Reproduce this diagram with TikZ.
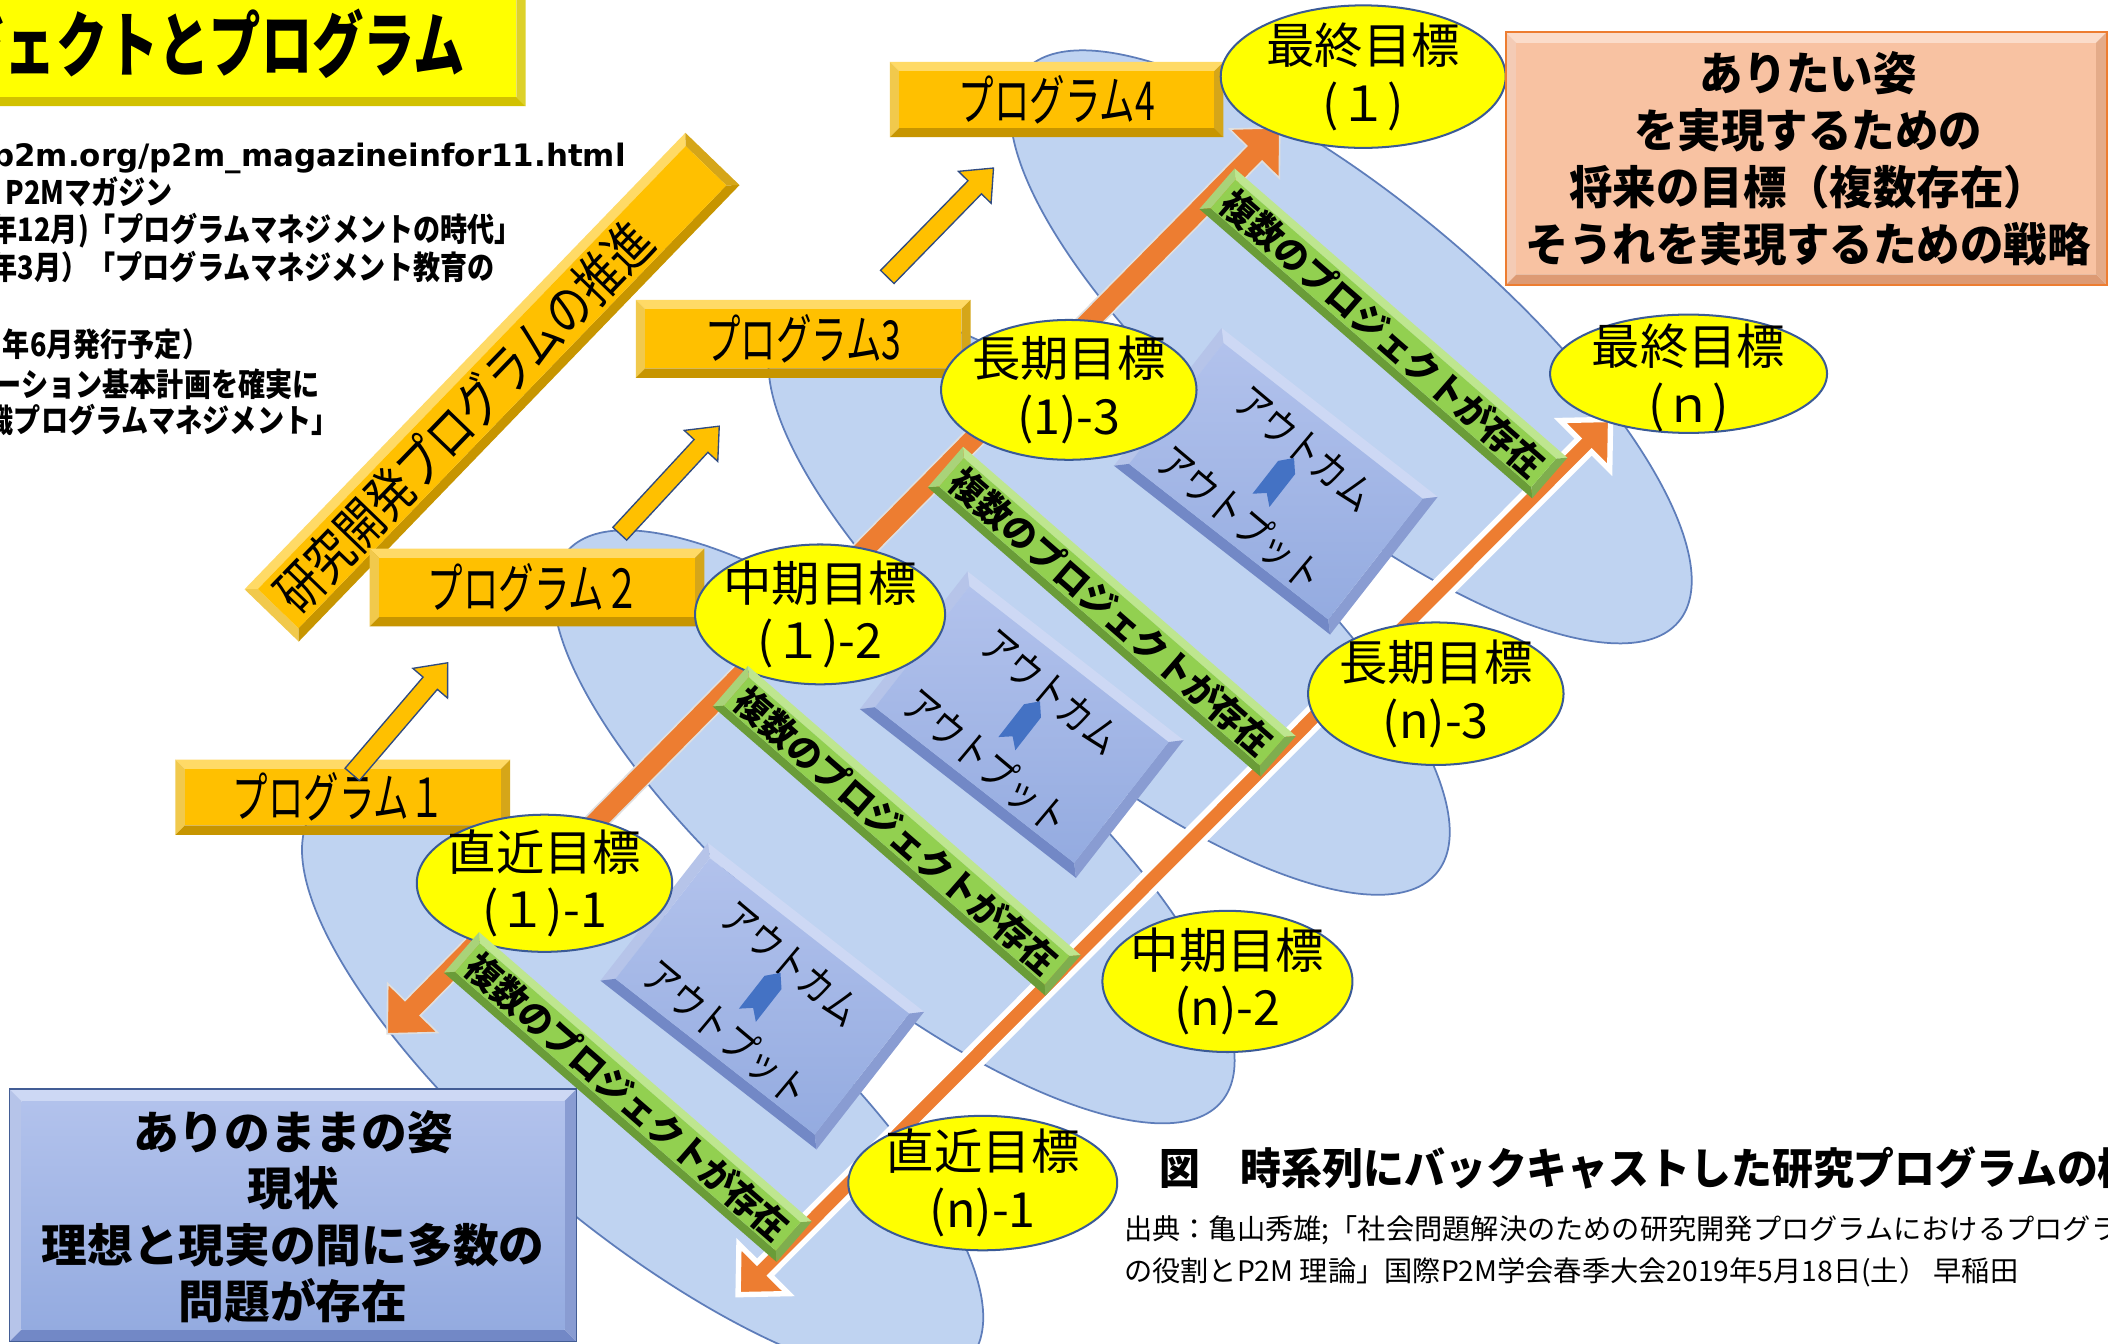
\documentclass[tikz,border=0pt]{standalone}
\usepackage{fontspec}
\usetikzlibrary{calc,shapes.geometric}
\newfontfamily\fA[FakeStretch=0.66]{Noto Sans CJK JP}
\newfontfamily\fT[FakeStretch=0.72]{Noto Sans CJK JP}
\newfontfamily\fB[FakeStretch=0.84]{Noto Sans CJK JP}
\newfontfamily\fO[FakeStretch=0.8]{Noto Sans CJK JP}
\newfontfamily\fC[FakeStretch=0.95]{Noto Sans CJK JP}
\newfontfamily\fD{Noto Sans CJK JP}
\newfontfamily\fE{DejaVu Sans}
\definecolor{gold}{HTML}{FFC000}
\definecolor{goldL}{HTML}{FFDA66}
\definecolor{goldD}{HTML}{C79500}
\definecolor{ttlY}{HTML}{FFFF00}
\definecolor{ttlL}{HTML}{FFFFA8}
\definecolor{ttlD}{HTML}{D2C100}
\definecolor{grn}{HTML}{92D050}
\definecolor{grnL}{HTML}{BEE68F}
\definecolor{grnD}{HTML}{6A9C38}
\definecolor{bxT}{HTML}{B2C2EC}
\definecolor{bxB}{HTML}{94ABE0}
\definecolor{bxL}{HTML}{CDD8F4}
\definecolor{bxD}{HTML}{7288C6}
\definecolor{sal}{HTML}{F8C2A2}
\definecolor{salL}{HTML}{FBDCCA}
\definecolor{salD}{HTML}{DD9A74}
\definecolor{org}{HTML}{ED7D31}
\definecolor{ell}{HTML}{BFD3F1}
\definecolor{ellD}{HTML}{5E7DBA}
\definecolor{goalD}{HTML}{3A5A96}
\definecolor{navy}{HTML}{2F4A80}
\definecolor{smarr}{HTML}{4472C4}
\tikzset{
 bigell/.style={fill=ell, draw=ellD, line width=1.3},
 goalshape/.style={ellipse, fill=ttlY, draw=goalD, line width=1.5, inner sep=0},
 goaltxt/.style={align=center, inner sep=0, font=\fD\fontsize{36}{43}\selectfont},
 progtxt/.style={inner sep=0, font=\fA\fontsize{40}{42}\selectfont},
 bandtxt/.style={inner sep=0, rotate=-41, font=\fC\bfseries\fontsize{27}{30}\selectfont},
 outtxt/.style={inner sep=0, rotate=-40, font=\fO\fontsize{31}{33}\selectfont},
 lefttxt/.style={inner sep=0, anchor=base west, font=\fB\bfseries\fontsize{24}{28}\selectfont},
 yarr/.style={fill=gold, draw=navy, line width=1},
}
% bevelled rectangle: cx, cy, w, h, angle, face style, light, dark, bevel width
\newcommand\bev[9]{%
\begin{scope}[shift={(#1,#2)},rotate=#5]
\pgfmathsetmacro\bvA{#3/2}\pgfmathsetmacro\bvB{#4/2}%
\pgfmathsetmacro\bvC{#3/2-#9}\pgfmathsetmacro\bvD{#4/2-#9}%
\fill[#7] (-\bvA,-\bvB) -- (\bvA,-\bvB) -- (\bvC,-\bvD) -- (-\bvC,-\bvD) -- cycle;
\fill[#7!75!#8] (-\bvA,-\bvB) -- (-\bvC,-\bvD) -- (-\bvC,\bvD) -- (-\bvA,\bvB) -- cycle;
\fill[#8] (-\bvA,\bvB) -- (\bvA,\bvB) -- (\bvC,\bvD) -- (-\bvC,\bvD) -- cycle;
\fill[#8!75!#7] (\bvA,-\bvB) -- (\bvA,\bvB) -- (\bvC,\bvD) -- (\bvC,-\bvD) -- cycle;
\path[#6] (-\bvC,-\bvD) rectangle (\bvC,\bvD);
\end{scope}}
% single block arrow
\newcommand\yarrow[3]{%
\coordinate (#3s) at #1; \coordinate (#3t) at #2;
\coordinate (#3b) at ($(#3t)!20pt!(#3s)$);
\path[yarr] ($(#3s)!7pt!90:(#3t)$) -- ($(#3b)!7pt!90:(#3t)$) -- ($(#3b)!17pt!90:(#3t)$) -- (#3t) -- ($(#3b)!17pt!-90:(#3t)$) -- ($(#3b)!7pt!-90:(#3t)$) -- ($(#3s)!7pt!-90:(#3t)$) -- cycle;}
% double block arrow
\newcommand\dblarr[6]{%
\coordinate (da1) at ($(#1)!#4!(#2)$);
\coordinate (da2) at ($(#2)!#4!(#1)$);
\path[#6] (#1) -- ($(da1)!#5!-90:(#2)$) -- ($(da1)!#3!-90:(#2)$) -- ($(da2)!#3!-90:(#2)$) -- ($(da2)!#5!-90:(#2)$) -- (#2) -- ($(da2)!#5!90:(#2)$) -- ($(da2)!#3!90:(#2)$) -- ($(da1)!#3!90:(#2)$) -- ($(da1)!#5!90:(#2)$) -- cycle;}
% outcome box
\newcommand\outbox[3]{%
\bev{#1}{#2}{204}{130}{-38}{top color=bxT, bottom color=bxB}{bxL}{bxD}{8}
\begin{scope}[shift={(#1,#2)},rotate=-38]
\node[outtxt] (#3a) at (2,-33) {アウトカム};
\node[outtxt] (#3b) at (-4,38) {アウトプット};
\fill[smarr] (0,-22) -- (8,-13) -- (8,18) -- (0,11) -- (-8,18) -- (-8,-13) -- cycle;
\end{scope}}
% band
\newcommand\band[3]{%
\bev{#1}{#2}{328}{40}{-41}{fill=grn}{grnL}{grnD}{6}
\node[bandtxt] (#3) at (#1,#2) {複数のプロジェクトが存在};}
\begin{document}
\begin{tikzpicture}[x=1pt,y=-1pt]
\useasboundingbox (0,0) rectangle (1568,999);
\fill[white] (0,0) rectangle (1568,999);
\clip (0,0) rectangle (1568,999);
% big ellipses (back to front)
\foreach \cx/\cy in {1005/258, 825/445, 665/615, 478/806} {
 \begin{scope}[shift={(\cx,\cy)},rotate=-40]
 \path[bigell] (0,0) ellipse [x radius=318pt, y radius=108pt];
 \end{scope}}
% title
\bev{190.5}{34.5}{401}{89}{0}{fill=ttlY}{ttlL}{ttlD}{7}
\node[inner sep=0, anchor=base east, font=\fT\bfseries\fontsize{53}{56}\selectfont] (title) at (346,53) {プロジェクトとプログラム};
% left text block
\node[inner sep=0, anchor=base west, font=\fE\bfseries\fontsize{23}{28}\selectfont] (l1) at (-6,124) {p2m.org/p2m\_magazineinfor11.html};
\node[lefttxt] (l2) at (4,152) {P2Mマガジン};
\node[lefttxt] (l3) at (-7,180) {年12月)「プログラムマネジメントの時代」};
\node[lefttxt] (l4) at (-7,208) {年3月）「プログラムマネジメント教育の};
\node[lefttxt] (l6) at (2,265) {年6月発行予定）};
\node[lefttxt] (l7) at (-4,295) {ーション基本計画を確実に};
\node[lefttxt] (l8) at (-10,322) {識プログラムマネジメント」};
% banner
\bev{366}{288}{472}{56}{46}{fill=gold}{goldL}{goldD}{7}
\node[inner sep=0, rotate=46, font=\fO\fontsize{40}{42}\selectfont] (banner) at (345,310) {研究開発プログラムの推進};
% program boxes
\bev{255}{593}{249}{56}{0}{fill=gold}{goldL}{goldD}{7}
\node[progtxt] (p1) at (252,593) {プログラム１};
\bev{399.5}{437}{249}{58}{0}{fill=gold}{goldL}{goldD}{7}
\node[progtxt] (p2) at (397,437) {プログラム２};
\bev{597.5}{252}{249}{58}{0}{fill=gold}{goldL}{goldD}{7}
\node[progtxt] (p3) at (597.5,252) {プログラム3};
\bev{786}{74}{248}{56}{0}{fill=gold}{goldL}{goldD}{7}
\node[progtxt] (p4) at (786,74) {プログラム4};
% small yellow arrows
\yarrow{(262,576)}{(333,493)}{ya}
\yarrow{(461,397)}{(535,317)}{yb}
\yarrow{(660,206)}{(739,125)}{yc}
% outcome boxes
\outbox{567}{741}{oa}
\outbox{760}{539}{ob}
\outbox{949}{358}{oc}
% orange arrows
\coordinate (LS) at (288,769); \coordinate (LT) at (952,95);
\coordinate (RS) at (549,963); \coordinate (RT) at (1198,312);
\dblarr{LS}{LT}{8pt}{27pt}{26pt}{fill=org, draw=white!75!gray, line width=1.2}
\dblarr{RS}{RT}{7pt}{27pt}{26pt}{fill=org, draw=white, line width=4}
% goal ellipses
\node[goalshape, minimum width=190pt, minimum height=102pt] (g11) at (405,657) {};
\node[goaltxt] (g11t) at (g11) {直近目標\\(１)-1};
\node[goalshape, minimum width=186pt, minimum height=104pt] (g12) at (610,457) {};
\node[goaltxt] (g12t) at (g12) {中期目標\\(１)-2};
\node[goalshape, minimum width=190pt, minimum height=104pt] (g13) at (795,290) {};
\node[goaltxt] (g13t) at (g13) {長期目標\\(1)-3};
\node[goalshape, minimum width=212pt, minimum height=106pt] (g1f) at (1014,57) {};
\node[goaltxt] (g1ft) at (g1f) {最終目標\\(１)};
\node[goalshape, minimum width=200pt, minimum height=100pt] (gn1) at (731,880) {};
\node[goaltxt] (gn1t) at (gn1) {直近目標\\(n)-1};
\node[goalshape, minimum width=186pt, minimum height=105pt] (gn2) at (913,730) {};
\node[goaltxt] (gn2t) at (gn2) {中期目標\\(n)-2};
\node[goalshape, minimum width=190pt, minimum height=106pt] (gn3) at (1068,516) {};
\node[goaltxt] (gn3t) at (gn3) {長期目標\\(n)-3};
\node[goalshape, minimum width=206pt, minimum height=88pt] (gnf) at (1256,278) {};
\node[goaltxt] (gnft) at (1256,281) {最終目標\\(ｎ)};
% green bands
\band{467}{816}{ga}
\band{667}{618}{gb}
\band{827}{455}{gc}
\band{1029}{248}{gd}
% bottom-left box
\bev{218}{904}{422}{188}{0}{top color=bxT, bottom color=bxB}{bxL}{bxD}{9}
\draw[navy!70!bxD, line width=1] (7,810) rectangle (429,998);
\node[inner sep=0, align=center, font=\fD\bfseries\fontsize{34}{42}\selectfont] (now) at (218,905) {ありのままの姿\\現状\\理想と現実の間に多数の\\問題が存在};
% top-right box
\bev{1343.5}{118}{447}{188}{0}{fill=sal}{salL}{salD}{8}
\draw[org, line width=1.5] (1120,24) rectangle (1567,212);
\node[inner sep=0, align=center, font=\fC\bfseries\fontsize{34}{42.5}\selectfont] (ideal) at (1345,118) {ありたい姿\\を実現するための\\将来の目標（複数存在）\\そうれを実現するための戦略};
% caption and source
\node[inner sep=0, anchor=base west, font=\fC\bfseries\fontsize{32}{36}\selectfont] (cap) at (862,881) {図　時系列にバックキャストした研究プログラムの構};
\node[inner sep=0, anchor=base west, font=\fD\fontsize{21}{24}\selectfont] (src1) at (836,922) {出典：亀山秀雄;「社会問題解決のための研究開発プログラムにおけるプログラ};
\node[inner sep=0, anchor=base west, font=\fD\fontsize{21}{24}\selectfont] (src2) at (836,953) {の役割とP2M 理論」国際P2M学会春季大会2019年5月18日(土） 早稲田};
\end{tikzpicture}
\end{document}
